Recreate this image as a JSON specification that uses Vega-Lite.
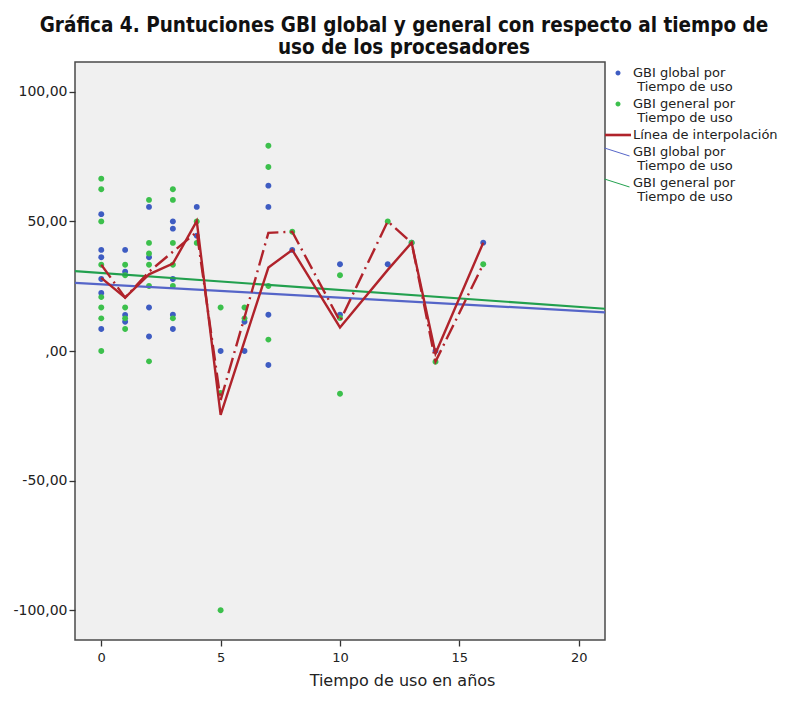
{
  "$schema": "https://vega.github.io/schema/vega-lite/v6.json",
  "autosize": "none",
  "width": 530,
  "height": 578,
  "padding": {"left": 75, "top": 62, "right": 204, "bottom": 80},
  "background": "white",
  "title": {
    "text": ["Gráfica 4. Puntuciones GBI global y general con respecto al tiempo de", "uso de los procesadores"],
    "anchor": "middle",
    "dx": 64,
    "offset": 4,
    "font": "Liberation Sans Narrow, DejaVu Sans Condensed, sans-serif",
    "fontSize": 20.5,
    "fontWeight": "bold",
    "lineHeight": 22,
    "color": "#111111"
  },
  "config": {
    "view": {"fill": "#F0F0F0", "stroke": "#4A4A4A", "strokeWidth": 1.5},
    "style": {"guide-label": {"lineHeight": 14}},
    "axis": {
      "labelFont": "DejaVu Sans",
      "labelFontSize": 13,
      "labelColor": "#222222",
      "tickColor": "#333333",
      "tickWidth": 1.3,
      "tickSize": 6,
      "grid": false,
      "domain": false,
      "titleFont": "DejaVu Sans",
      "titleFontSize": 16,
      "titleFontWeight": "normal",
      "titleColor": "#222222"
    }
  },
  "datasets": {
    "puntos": [
      {"tiempo": 0, "gbi": 52.8, "serie": "gp"},
      {"tiempo": 0, "gbi": 39.0, "serie": "gp"},
      {"tiempo": 0, "gbi": 36.2, "serie": "gp"},
      {"tiempo": 0, "gbi": 27.8, "serie": "gp"},
      {"tiempo": 0, "gbi": 22.4, "serie": "gp"},
      {"tiempo": 0, "gbi": 8.5, "serie": "gp"},
      {"tiempo": 1, "gbi": 39.0, "serie": "gp"},
      {"tiempo": 1, "gbi": 30.6, "serie": "gp"},
      {"tiempo": 1, "gbi": 13.9, "serie": "gp"},
      {"tiempo": 1, "gbi": 11.3, "serie": "gp"},
      {"tiempo": 2, "gbi": 55.6, "serie": "gp"},
      {"tiempo": 2, "gbi": 36.2, "serie": "gp"},
      {"tiempo": 2, "gbi": 16.8, "serie": "gp"},
      {"tiempo": 2, "gbi": 5.6, "serie": "gp"},
      {"tiempo": 3, "gbi": 50.0, "serie": "gp"},
      {"tiempo": 3, "gbi": 47.2, "serie": "gp"},
      {"tiempo": 3, "gbi": 27.8, "serie": "gp"},
      {"tiempo": 3, "gbi": 14.0, "serie": "gp"},
      {"tiempo": 3, "gbi": 8.5, "serie": "gp"},
      {"tiempo": 4, "gbi": 55.6, "serie": "gp"},
      {"tiempo": 4, "gbi": 44.5, "serie": "gp"},
      {"tiempo": 5, "gbi": 0.0, "serie": "gp"},
      {"tiempo": 6, "gbi": 11.3, "serie": "gp"},
      {"tiempo": 6, "gbi": 0.0, "serie": "gp"},
      {"tiempo": 7, "gbi": 63.8, "serie": "gp"},
      {"tiempo": 7, "gbi": 55.6, "serie": "gp"},
      {"tiempo": 7, "gbi": 14.0, "serie": "gp"},
      {"tiempo": 7, "gbi": -5.4, "serie": "gp"},
      {"tiempo": 8, "gbi": 39.0, "serie": "gp"},
      {"tiempo": 10, "gbi": 33.5, "serie": "gp"},
      {"tiempo": 10, "gbi": 14.0, "serie": "gp"},
      {"tiempo": 12, "gbi": 33.5, "serie": "gp"},
      {"tiempo": 13, "gbi": 41.8, "serie": "gp"},
      {"tiempo": 14, "gbi": 0.0, "serie": "gp"},
      {"tiempo": 16, "gbi": 41.8, "serie": "gp"},
      {"tiempo": 0, "gbi": 66.5, "serie": "np"},
      {"tiempo": 0, "gbi": 62.4, "serie": "np"},
      {"tiempo": 0, "gbi": 50.0, "serie": "np"},
      {"tiempo": 0, "gbi": 33.3, "serie": "np"},
      {"tiempo": 0, "gbi": 20.8, "serie": "np"},
      {"tiempo": 0, "gbi": 16.8, "serie": "np"},
      {"tiempo": 0, "gbi": 12.6, "serie": "np"},
      {"tiempo": 0, "gbi": 0.0, "serie": "np"},
      {"tiempo": 1, "gbi": 33.3, "serie": "np"},
      {"tiempo": 1, "gbi": 29.2, "serie": "np"},
      {"tiempo": 1, "gbi": 16.8, "serie": "np"},
      {"tiempo": 1, "gbi": 12.6, "serie": "np"},
      {"tiempo": 1, "gbi": 8.5, "serie": "np"},
      {"tiempo": 2, "gbi": 58.3, "serie": "np"},
      {"tiempo": 2, "gbi": 41.7, "serie": "np"},
      {"tiempo": 2, "gbi": 37.6, "serie": "np"},
      {"tiempo": 2, "gbi": 33.3, "serie": "np"},
      {"tiempo": 2, "gbi": 25.1, "serie": "np"},
      {"tiempo": 2, "gbi": -4.0, "serie": "np"},
      {"tiempo": 3, "gbi": 62.4, "serie": "np"},
      {"tiempo": 3, "gbi": 58.3, "serie": "np"},
      {"tiempo": 3, "gbi": 41.7, "serie": "np"},
      {"tiempo": 3, "gbi": 33.3, "serie": "np"},
      {"tiempo": 3, "gbi": 25.1, "serie": "np"},
      {"tiempo": 3, "gbi": 12.6, "serie": "np"},
      {"tiempo": 4, "gbi": 50.0, "serie": "np"},
      {"tiempo": 4, "gbi": 41.7, "serie": "np"},
      {"tiempo": 5, "gbi": 16.8, "serie": "np"},
      {"tiempo": 5, "gbi": -16.2, "serie": "np"},
      {"tiempo": 5, "gbi": -100.0, "serie": "np"},
      {"tiempo": 6, "gbi": 16.8, "serie": "np"},
      {"tiempo": 6, "gbi": 12.6, "serie": "np"},
      {"tiempo": 7, "gbi": 79.2, "serie": "np"},
      {"tiempo": 7, "gbi": 71.0, "serie": "np"},
      {"tiempo": 7, "gbi": 25.1, "serie": "np"},
      {"tiempo": 7, "gbi": 4.4, "serie": "np"},
      {"tiempo": 8, "gbi": 46.0, "serie": "np"},
      {"tiempo": 10, "gbi": 29.2, "serie": "np"},
      {"tiempo": 10, "gbi": 12.7, "serie": "np"},
      {"tiempo": 10, "gbi": -16.5, "serie": "np"},
      {"tiempo": 12, "gbi": 50.0, "serie": "np"},
      {"tiempo": 13, "gbi": 41.8, "serie": "np"},
      {"tiempo": 14, "gbi": -4.1, "serie": "np"},
      {"tiempo": 16, "gbi": 33.5, "serie": "np"}
    ],
    "interpolacion": [
      {"tiempo": 0, "gbi": 28.2, "serie": "global"},
      {"tiempo": 1, "gbi": 20.6, "serie": "global"},
      {"tiempo": 2, "gbi": 29.6, "serie": "global"},
      {"tiempo": 3, "gbi": 33.7, "serie": "global"},
      {"tiempo": 4, "gbi": 50.1, "serie": "global"},
      {"tiempo": 5, "gbi": -24.6, "serie": "global"},
      {"tiempo": 6, "gbi": 3.8, "serie": "global"},
      {"tiempo": 7, "gbi": 32.2, "serie": "global"},
      {"tiempo": 8, "gbi": 39.0, "serie": "global"},
      {"tiempo": 10, "gbi": 9.1, "serie": "global"},
      {"tiempo": 12, "gbi": 31.3, "serie": "global"},
      {"tiempo": 13, "gbi": 41.8, "serie": "global"},
      {"tiempo": 14, "gbi": -1.0, "serie": "global"},
      {"tiempo": 16, "gbi": 41.8, "serie": "global"},
      {"tiempo": 0, "gbi": 33.3, "serie": "general"},
      {"tiempo": 1, "gbi": 20.6, "serie": "general"},
      {"tiempo": 2, "gbi": 30.6, "serie": "general"},
      {"tiempo": 3, "gbi": 38.3, "serie": "general"},
      {"tiempo": 4, "gbi": 45.9, "serie": "general"},
      {"tiempo": 5, "gbi": -19.0, "serie": "general"},
      {"tiempo": 6, "gbi": 13.0, "serie": "general"},
      {"tiempo": 7, "gbi": 45.6, "serie": "general"},
      {"tiempo": 8, "gbi": 46.0, "serie": "general"},
      {"tiempo": 10, "gbi": 11.5, "serie": "general"},
      {"tiempo": 12, "gbi": 50.0, "serie": "general"},
      {"tiempo": 13, "gbi": 41.8, "serie": "general"},
      {"tiempo": 14, "gbi": -4.1, "serie": "general"},
      {"tiempo": 16, "gbi": 33.5, "serie": "general"}
    ],
    "ajuste": [
      {"tiempo": -1.1, "gbi": 26.3, "serie": "global"},
      {"tiempo": 21.1, "gbi": 14.9, "serie": "global"},
      {"tiempo": -1.1, "gbi": 30.8, "serie": "general"},
      {"tiempo": 21.1, "gbi": 16.3, "serie": "general"}
    ]
  },
  "layer": [
    {
      "data": {"name": "puntos"},
      "mark": {"type": "point", "filled": true, "size": 560, "opacity": 1},
      "encoding": {
        "x": {
          "field": "tiempo", "type": "quantitative",
          "scale": {"domain": [-1.1, 21.1], "nice": false, "zero": false},
          "axis": {"values": [0, 5, 10, 15, 20], "title": "Tiempo de uso en años", "labelPadding": 5, "titlePadding": 8, "titleX": 327}
        },
        "y": {
          "field": "gbi", "type": "quantitative",
          "scale": {"domain": [-111.5, 111.5], "nice": false, "zero": false},
          "axis": {
            "values": [-100, -50, 0, 50, 100],
            "title": null,
            "labelPadding": 2,
            "labelFontSize": 14,
            "labelExpr": "datum.value == 0 ? ',00' : (datum.value < 0 ? '-' : '') + abs(datum.value) + ',00'"
          }
        },
        "color": {
          "field": "serie", "type": "nominal",
          "scale": {
            "domain": ["gp", "np", "il", "gl", "nl"],
            "range": ["#3E5CC2", "#3CC04C", "#B0232B", "#5565C8", "#22A04E"]
          },
          "legend": {
            "title": null, "orient": "none", "legendX": 533, "legendY": 1,
            "symbolSize": 400, "symbolStrokeWidth": 0, "labelOffset": 5, "rowPadding": 0, "padding": 0,
            "labelFont": "DejaVu Sans", "labelFontSize": 13, "labelColor": "#222222", "labelLimit": 250,
            "labelExpr": "datum.value == 'gp' ? ['GBI global por', '\u200b\u00a0Tiempo de uso'] : datum.value == 'np' ? ['GBI general por', '\u200b\u00a0Tiempo de uso'] : datum.value == 'il' ? 'Línea de interpolación' : datum.value == 'gl' ? ['GBI global por', '\u200b\u00a0Tiempo de uso'] : ['GBI general por', '\u200b\u00a0Tiempo de uso']"
          }
        },
        "shape": {
          "field": "serie", "type": "nominal",
          "scale": {
            "domain": ["gp", "np", "il", "gl", "nl"],
            "range": [
              "M0.25,0A0.25,0.25,0,1,1,-0.25,0A0.25,0.25,0,1,1,0.25,0Z",
              "M0.25,0A0.25,0.25,0,1,1,-0.25,0A0.25,0.25,0,1,1,0.25,0Z",
              "M-1.3,-0.13L1.3,-0.13L1.3,0.13L-1.3,0.13Z",
              "M-1.35,-0.46L1.15,0.34L1.15,0.46L-1.35,-0.34Z",
              "M-1.35,-0.46L1.15,0.34L1.15,0.46L-1.35,-0.34Z"
            ]
          },
          "legend": {
            "title": null, "orient": "none", "legendX": 533, "legendY": 1,
            "symbolSize": 400, "symbolStrokeWidth": 0, "labelOffset": 5, "rowPadding": 0, "padding": 0,
            "labelFont": "DejaVu Sans", "labelFontSize": 13, "labelColor": "#222222", "labelLimit": 250,
            "labelExpr": "datum.value == 'gp' ? ['GBI global por', '\u200b\u00a0Tiempo de uso'] : datum.value == 'np' ? ['GBI general por', '\u200b\u00a0Tiempo de uso'] : datum.value == 'il' ? 'Línea de interpolación' : datum.value == 'gl' ? ['GBI global por', '\u200b\u00a0Tiempo de uso'] : ['GBI general por', '\u200b\u00a0Tiempo de uso']"
          }
        }
      }
    },
    {
      "data": {"name": "ajuste"},
      "transform": [{"filter": "datum.serie == 'global'"}],
      "mark": {"type": "line", "color": "#5565C8", "strokeWidth": 2.2, "clip": true},
      "encoding": {
        "x": {"field": "tiempo", "type": "quantitative"},
        "y": {"field": "gbi", "type": "quantitative"}
      }
    },
    {
      "data": {"name": "ajuste"},
      "transform": [{"filter": "datum.serie == 'general'"}],
      "mark": {"type": "line", "color": "#22A04E", "strokeWidth": 2.2, "clip": true},
      "encoding": {
        "x": {"field": "tiempo", "type": "quantitative"},
        "y": {"field": "gbi", "type": "quantitative"}
      }
    },
    {
      "data": {"name": "interpolacion"},
      "transform": [{"filter": "datum.serie == 'general'"}],
      "mark": {"type": "line", "color": "#B0232B", "strokeWidth": 2.4, "strokeDash": [16, 5, 2, 5]},
      "encoding": {
        "x": {"field": "tiempo", "type": "quantitative"},
        "y": {"field": "gbi", "type": "quantitative"}
      }
    },
    {
      "data": {"name": "interpolacion"},
      "transform": [{"filter": "datum.serie == 'global'"}],
      "mark": {"type": "line", "color": "#B0232B", "strokeWidth": 2.4},
      "encoding": {
        "x": {"field": "tiempo", "type": "quantitative"},
        "y": {"field": "gbi", "type": "quantitative"}
      }
    }
  ]
}
